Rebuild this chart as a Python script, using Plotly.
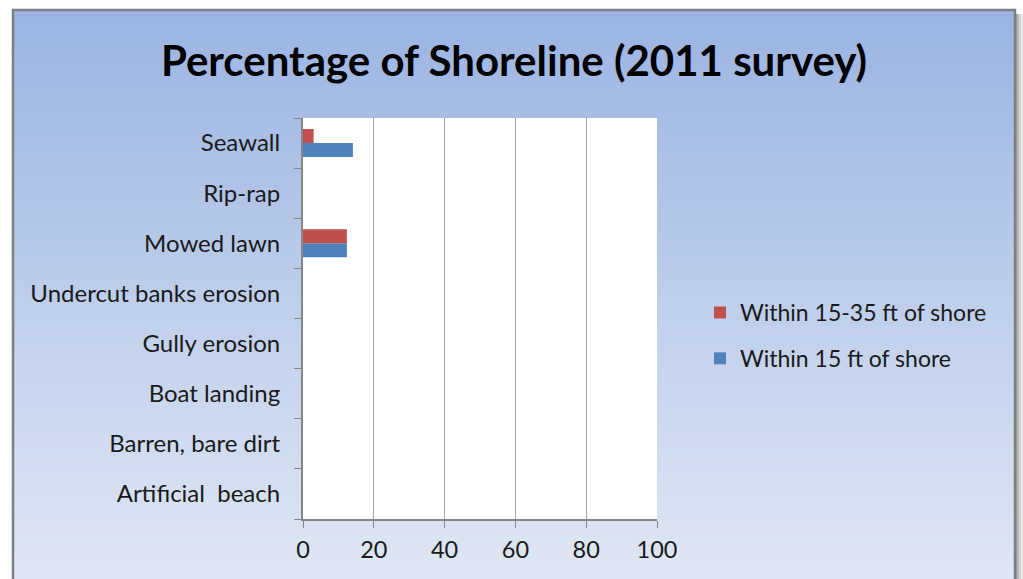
import plotly.graph_objects as go

# ---- data ----
categories = ["Seawall", "Rip-rap", "Mowed lawn", "Undercut banks erosion",
              "Gully erosion", "Boat landing", "Barren, bare dirt", "Artificial  beach"]
within_15 = [14.1, 0, 12.4, 0, 0, 0, 0, 0]
within_15_35 = [3.0, 0, 12.4, 0, 0, 0, 0, 0]
series_names = ["Within 15 ft of shore", "Within 15-35 ft of shore"]
x_ticks = [0, 20, 40, 60, 80, 100]
title_text = "Percentage of Shoreline (2011 survey)"

W, H = 1023, 579
L, R, T, B = 303, 657, 118, 519  # plot area in px

FONT = "Lato"
TXT = "#1a1a1a"

def px_x(p):
    return (p - L) / (R - L)

def px_y(p):
    return (B - p) / (B - T)

fig = go.Figure()
fig.add_trace(go.Bar(y=categories, x=within_15, orientation="h", name=series_names[0],
                     marker=dict(color="#4F81BD", line=dict(width=0)),
                     legendgroup="a", legendrank=2))
fig.add_trace(go.Bar(y=categories, x=within_15_35, orientation="h", name=series_names[1],
                     marker=dict(color="#C0504D", line=dict(width=0)),
                     legendgroup="b", legendrank=1))

# gradient background strips + frame
shapes = []
top_c = (0x9B, 0xB4, 0xE2)
bot_c = (0xE0, 0xE7, 0xF4)
n = 90
y0px, y1px = 10, 579
for i in range(n):
    a = y0px + (y1px - y0px) * i / n
    b = y0px + (y1px - y0px) * (i + 1) / n + 1
    t = i / (n - 1)
    c = tuple(round(top_c[k] + (bot_c[k] - top_c[k]) * t) for k in range(3))
    shapes.append(dict(type="rect", xref="paper", yref="paper", layer="below",
                       x0=px_x(13), x1=px_x(1015), y0=px_y(a), y1=px_y(b),
                       fillcolor="rgb(%d,%d,%d)" % c, line=dict(width=0)))
# shadow on right
for i, col in enumerate(["#9a9a9a", "#b8b8b8", "#d4d4d4", "#ececec"]):
    shapes.append(dict(type="rect", xref="paper", yref="paper", layer="below",
                       x0=px_x(1015 + i * 2), x1=px_x(1017 + i * 2), y0=px_y(14), y1=px_y(600),
                       fillcolor=col, line=dict(width=0)))
# frame
shapes.append(dict(type="rect", xref="paper", yref="paper", layer="below",
                   x0=px_x(13), x1=px_x(1015), y0=px_y(10), y1=px_y(620),
                   fillcolor="rgba(0,0,0,0)", line=dict(color="#7f7f7f", width=2.5)))
# plot area white
shapes.append(dict(type="rect", xref="x domain", yref="y domain", layer="below",
                   x0=0, x1=1, y0=0, y1=1, fillcolor="white", line=dict(width=0)))

fig.update_layout(
    width=W, height=H,
    margin=dict(l=L, r=W - R, t=T, b=H - B, pad=0),
    paper_bgcolor="white",
    plot_bgcolor="white",
    barmode="group",
    bargap=0.44,
    bargroupgap=0,
    shapes=shapes,
    title=dict(text="<b>" + title_text + "</b>", x=514 / W,
               xanchor="center", y=1 - 61 / H, yanchor="middle",
               font=dict(family=FONT, size=42, color="#000000")),
    font=dict(family=FONT, size=23.5, color=TXT),
    showlegend=True,
    legend=dict(x=px_x(700), xanchor="left", y=px_y(291), yanchor="top",
                traceorder="grouped", tracegroupgap=13,
                bgcolor="rgba(0,0,0,0)", font=dict(family=FONT, size=23, color=TXT),
                itemwidth=30),
    xaxis=dict(range=[0, 100], tickvals=x_ticks, showgrid=True, gridcolor="#a6a6a6",
               gridwidth=1.3, showline=True, linecolor="#868686", linewidth=1.5,
               ticks="outside", ticklen=7, tickcolor="#868686", zeroline=False,
               ticklabelstandoff=2,
               fixedrange=True, tickfont=dict(family=FONT, size=23.5, color=TXT)),
    yaxis=dict(categoryorder="array", categoryarray=categories[::-1],
               showline=True, linecolor="#868686", linewidth=1.5,
               ticks="outside", ticklen=7, tickcolor="#868686", tickson="boundaries",
               showgrid=False, ticksuffix="  ", ticklabelstandoff=4, fixedrange=True,
               tickfont=dict(family=FONT, size=24, color=TXT)),
)

fig.write_html("out.html")
